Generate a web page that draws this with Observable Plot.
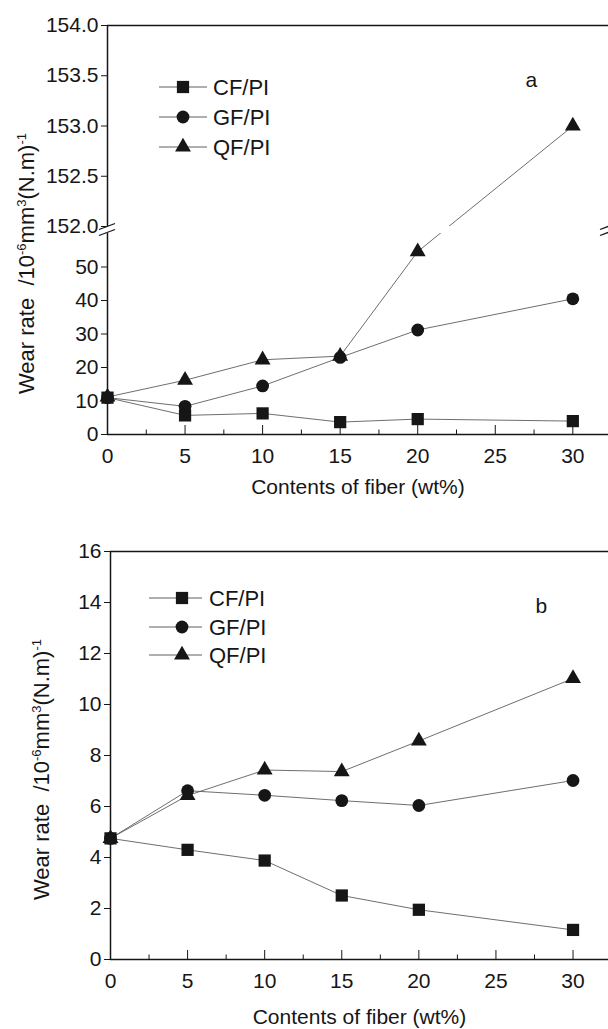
<!DOCTYPE html>
<html><head><meta charset="utf-8">
<script src="https://cdn.jsdelivr.net/npm/d3@7"></script>
<script src="https://cdn.jsdelivr.net/npm/@observablehq/plot@0.6"></script>
<style>
body{margin:0;background:#fff;}
#chart{width:608px;overflow:hidden;}
#chart svg{display:block;font-family:"Liberation Sans",Arial,sans-serif;}
</style></head><body><div id="chart"></div>
<script>
// ---- data ----
const contents = [0, 5, 10, 15, 20, 30];
const seriesNames = ["CF/PI", "GF/PI", "QF/PI"];
const wearA_CF = [11.0, 5.7, 6.3, 3.7, 4.6, 4.0];
const wearA_GF = [11.0, 8.4, 14.5, 23.0, 31.2, 40.5];
const wearA_QF = [11.2, 16.2, 22.3, 23.4, 54.6, 153.0];
const wearB_CF = [4.75, 4.30, 3.88, 2.51, 1.95, 1.16];
const wearB_GF = [4.75, 6.62, 6.44, 6.23, 6.04, 7.02];
const wearB_QF = [4.75, 6.43, 7.43, 7.37, 8.57, 11.02];
const xTicks = [0, 5, 10, 15, 20, 25, 30];
const xMinorTicks = [2.5, 7.5, 12.5, 17.5, 22.5, 27.5];
const yTicksA = [0, 10, 20, 30, 40, 50, 152.0, 152.5, 153.0, 153.5, 154.0];
const yTicksB = [0, 2, 4, 6, 8, 10, 12, 14, 16];
const panelLabels = ["a", "b"];
const xLabel = "Contents of fiber (wt%)";
const yLabelParts = [["Wear rate  /10", false], ["-6", true], ["mm", false], ["3", true], ["(N.m)", false], ["-1", true]];
const breakA = {lowerMax: 60, upperMin: 152, top: 154};

// broken-axis warp for panel a (lower part 0–60, upper part 152–154)
const warpA = d3.scaleLinear().domain([0, breakA.lowerMax, breakA.upperMin, breakA.top]).range([0, 201, 208, 409]);

const symbols = [
  {name: "square", d3sym: d3.symbolSquare, r: 6.9},
  {name: "circle", d3sym: d3.symbolCircle, r: 6.4},
  {name: "triangle", d3sym: d3.symbolTriangle, r: 5.9}
];
const LINE = "#5e5e5e";
const INK = "#161616";
const FONT = 21;

function table(values) { return contents.map((c, i) => ({c, v: values[i]})); }

function legendMark(lg) {
  return (index, scales, values, dims) => {
    const g = d3.create("svg:g").attr("text-anchor", "start");
    seriesNames.forEach((name, i) => {
      const y = dims.marginTop + lg.dys[i];
      const x0 = dims.marginLeft;
      g.append("line").attr("x1", x0 + lg.line[0]).attr("x2", x0 + lg.line[1])
        .attr("y1", y).attr("y2", y).attr("stroke", LINE).attr("stroke-width", 1);
      const s = symbols[i];
      g.append("path").attr("transform", `translate(${x0 + lg.marker},${y})`)
        .attr("d", d3.symbol(s.d3sym, Math.PI * s.r * s.r)()).attr("fill", INK);
      g.append("text").attr("x", x0 + lg.text).attr("y", y).attr("dy", "0.36em")
        .attr("text-anchor", "start")
        .attr("font-size", 22).attr("fill", INK).text(name);
    });
    return g.node();
  };
}

function yLabelMark(bx, by) {
  return () => {
    const t = d3.create("svg:text")
      .attr("transform", `translate(${bx},${by}) rotate(-90)`)
      .attr("text-anchor", "start")
      .attr("font-size", 22).attr("fill", INK).style("white-space", "pre");
    yLabelParts.forEach(([txt, sup]) => {
      const ts = t.append("tspan").text(txt);
      if (sup) ts.attr("font-size", 13).attr("baseline-shift", "60%");
    });
    return t.node();
  };
}

function breakMarks(brk, warp, xs) {
  return (index, scales) => {
    const g = d3.create("svg:g").attr("stroke", INK).attr("stroke-width", 1.3);
    const ym = (scales.y(warp(brk.lowerMax)) + scales.y(warp(brk.upperMin))) / 2;
    for (const xv of xs) {
      const x0 = scales.x(xv);
      for (const off of [-3, 3]) {
        g.append("line").attr("x1", x0 - 8).attr("y1", ym + off + 3)
          .attr("x2", x0 + 8).attr("y2", ym + off - 3);
      }
    }
    return g.node();
  };
}

function panel(cfg) {
  const xMax = cfg.xMax;
  const marks = [];
  marks.push(Plot.ruleY([cfg.yTop], {x1: 0, x2: xMax, stroke: INK, strokeWidth: 1.5}));
  marks.push(Plot.ruleY([0], {x1: 0, x2: xMax, stroke: INK, strokeWidth: 1.5}));
  for (const [a, b] of cfg.leftSegments) marks.push(Plot.ruleX([0], {y1: a, y2: b, stroke: INK, strokeWidth: 1.5}));
  marks.push(Plot.axisY(cfg.yTicks, {anchor: "left", tickSize: 6, tickPadding: 3, tickFormat: cfg.yFmt, fontSize: FONT, label: null, color: INK}));
  marks.push(Plot.axisX(xTicks, {anchor: "bottom", tickSize: 0, tickPadding: 14, fontSize: FONT, label: null, color: INK}));
  marks.push(Plot.axisX(xTicks, {anchor: "bottom", tickSize: -9, text: null, label: null, color: INK}));
  marks.push(Plot.axisX(xMinorTicks, {anchor: "bottom", tickSize: -4.5, text: null, label: null, color: INK}));
  cfg.series.forEach((vals) => {
    marks.push(Plot.line(table(vals), {x: "c", y: "v", stroke: LINE, strokeWidth: 0.9}));
  });
  if (cfg.brk) {
    marks.push(Plot.rect([0], {x1: 0.5, x2: xMax, y1: cfg.brk.lowerMax, y2: cfg.brk.upperMin, fill: "white"}));
    marks.push(breakMarks(cfg.brk, cfg.warp, [0, xMax]));
  }
  cfg.series.forEach((vals, i) => {
    marks.push(Plot.dot(table(vals), {x: "c", y: "v", symbol: symbols[i].name, r: symbols[i].r, fill: INK, stroke: "none"}));
  });
  marks.push(legendMark(cfg.legend));
  marks.push(Plot.text([cfg.panelLabel], {frameAnchor: "top-left", dx: cfg.panelDx, dy: cfg.panelDy, fontSize: FONT, fill: INK}));
  marks.push(Plot.text([xLabel], {frameAnchor: "bottom", dy: cfg.xLabelDy, fontSize: FONT, fill: INK}));
  marks.push(yLabelMark(cfg.yLabelX, cfg.yLabelY));

  const y = cfg.warp
    ? {type: "linear", transform: cfg.warp, domain: [0, cfg.warp(cfg.yTop)]}
    : {domain: cfg.yDomain};
  return Plot.plot({
    width: 608, height: cfg.height,
    marginLeft: cfg.marginLeft, marginRight: 0, marginTop: cfg.marginTop, marginBottom: cfg.marginBottom,
    x: {domain: [0, xMax]},
    y,
    style: {fontFamily: '"Liberation Sans", Arial, sans-serif', fontSize: FONT + "px", color: INK, background: "white", overflow: "visible"},
    marks
  });
}

const chart = document.getElementById("chart");

chart.append(panel({
  height: 505, marginLeft: 107, marginTop: 25, marginBottom: 71, xMax: 32.3,
  warp: warpA,
  yTop: breakA.top,
  leftSegments: [[0, breakA.lowerMax], [breakA.upperMin, breakA.top]],
  yTicks: yTicksA,
  yFmt: d => d >= 100 ? d.toFixed(1) : String(d),
  series: [wearA_CF, wearA_GF, wearA_QF],
  brk: breakA,
  legend: {line: [52, 100], marker: 76, text: 106, dys: [62, 92, 122]},
  panelLabel: panelLabels[0], panelDx: 418, panelDy: 47,
  xLabelDy: 59,
  yLabelX: 34, yLabelY: 394
}));

chart.append(panel({
  height: 524, marginLeft: 110, marginTop: 46, marginBottom: 70, xMax: 32.3,
  yDomain: [0, 16],
  yTop: 16,
  leftSegments: [[0, 16]],
  yTicks: yTicksB,
  yFmt: d => String(d),
  series: [wearB_CF, wearB_GF, wearB_QF],
  brk: null,
  legend: {line: [39, 92], marker: 72, text: 99, dys: [47, 76, 104]},
  panelLabel: panelLabels[1], panelDx: 425, panelDy: 47,
  xLabelDy: 64,
  yLabelX: 49, yLabelY: 395
}));
</script></body></html>
